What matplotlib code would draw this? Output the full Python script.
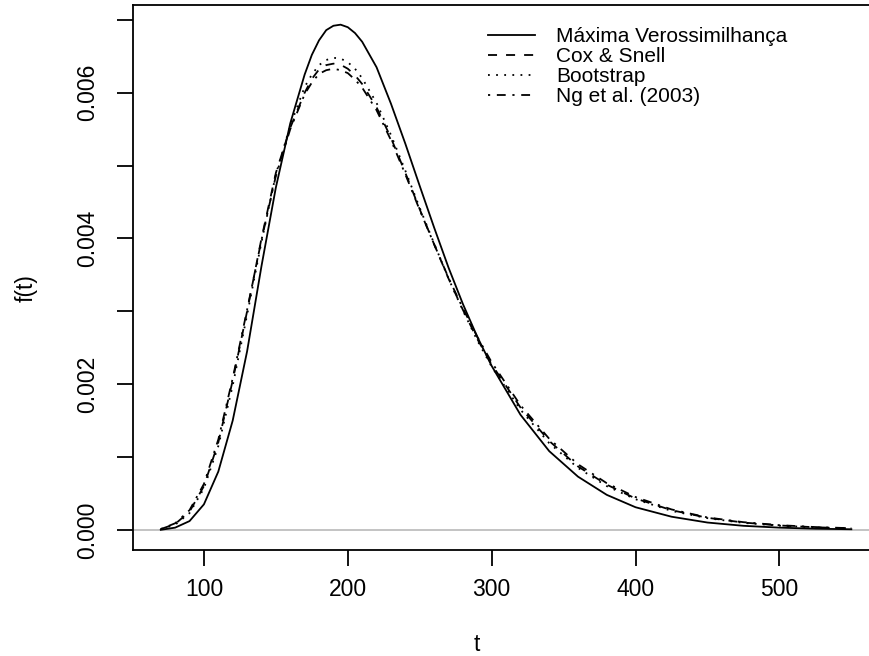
import matplotlib
matplotlib.use("Agg")
import matplotlib.pyplot as plt

plt.rcParams['font.family'] = ['Liberation Sans', 'DejaVu Sans']

# tempo t
t = [70, 80, 90, 100, 110, 120, 130, 140, 150, 160, 170, 175, 180, 185, 190,
     195, 200, 205, 210, 220, 230, 240, 250, 260, 270, 280, 290, 300, 320,
     340, 360, 380, 400, 425, 450, 475, 500, 525, 550]

# densidades (x 1e-3)
mv = [0.00, 0.03, 0.12, 0.35, 0.80, 1.50, 2.45, 3.62, 4.70, 5.58, 6.25, 6.52,
      6.72, 6.86, 6.92, 6.935, 6.90, 6.82, 6.70, 6.35, 5.85, 5.30, 4.72, 4.15,
      3.60, 3.10, 2.65, 2.25, 1.58, 1.08, 0.73, 0.48, 0.31, 0.18, 0.10, 0.055,
      0.03, 0.015, 0.008]
cox_snell = [0.01, 0.08, 0.25, 0.60, 1.20, 2.05, 3.00, 4.00, 4.90, 5.52, 6.00,
             6.19, 6.32, 6.38, 6.40, 6.385, 6.33, 6.24, 6.12, 5.80, 5.38, 4.90,
             4.40, 3.92, 3.45, 3.02, 2.62, 2.27, 1.68, 1.22, 0.87, 0.62, 0.43,
             0.27, 0.165, 0.10, 0.06, 0.035, 0.02]
bootstrap = [0.01, 0.07, 0.23, 0.57, 1.15, 1.98, 2.95, 3.95, 4.88, 5.55, 6.08,
             6.25, 6.38, 6.45, 6.48, 6.47, 6.42, 6.33, 6.20, 5.86, 5.42, 4.93,
             4.42, 3.93, 3.45, 3.01, 2.60, 2.24, 1.65, 1.19, 0.85, 0.60, 0.42,
             0.26, 0.16, 0.095, 0.057, 0.033, 0.019]
ng = [0.01, 0.09, 0.27, 0.63, 1.24, 2.08, 3.02, 3.98, 4.86, 5.50, 5.98, 6.14,
      6.26, 6.31, 6.33, 6.31, 6.27, 6.18, 6.07, 5.76, 5.35, 4.88, 4.39, 3.92,
      3.46, 3.04, 2.65, 2.30, 1.71, 1.25, 0.90, 0.64, 0.45, 0.28, 0.17, 0.105,
      0.064, 0.038, 0.022]

labels = ["Máxima Verossimilhança", "Cox & Snell", "Bootstrap", "Ng et al. (2003)"]

fig = plt.figure(figsize=(8.69, 6.56), dpi=100)
ax = fig.add_axes([133/869, 1 - 550/656, 749/869, 545/656])

lw = 1.3
ax.axhline(0, color="#BEBEBE", lw=lw, zorder=1)
ax.plot(t, [v * 1e-3 for v in mv], color="black", lw=lw, label=labels[0])
ax.plot(t, [v * 1e-3 for v in cox_snell], color="black", lw=lw,
        dashes=(5, 5), label=labels[1])
ax.plot(t, [v * 1e-3 for v in bootstrap], color="black", lw=lw,
        dashes=(1, 3.5), label=labels[2])
ax.plot(t, [v * 1e-3 for v in ng], color="black", lw=lw,
        dashes=(1.2, 3.7, 4.9, 3.7), label=labels[3])

ax.set_xlim(50.7, 571.3)
ax.set_ylim(-0.000277, 0.007205)

ax.set_xticks([100, 200, 300, 400, 500])
ax.set_yticks([i * 0.001 for i in range(8)])
ax.set_yticklabels(["0.000", "", "0.002", "", "0.004", "", "0.006", ""],
                   rotation=90, va="center")
ax.tick_params(axis="both", direction="out", length=11.5, width=lw,
               labelsize=16.5)
ax.tick_params(axis="x", pad=9)
ax.tick_params(axis="y", pad=13)
for s in ax.spines.values():
    s.set_linewidth(lw)

ax.set_xlabel("t", fontsize=16.5, va="center")
ax.xaxis.set_label_coords(0.459, -0.174)
ax.set_ylabel("f(t)", fontsize=16.5, va="center")
ax.yaxis.set_label_coords(-0.143, 0.48)

ax.legend(loc="upper left", bbox_to_anchor=(488/869, 1 - 27/656),
          bbox_transform=fig.transFigure, frameon=False, fontsize=15,
          handlelength=2.26, handletextpad=1.0, labelspacing=0.05,
          borderpad=0, borderaxespad=0)

fig.savefig("out.png", dpi=100)
